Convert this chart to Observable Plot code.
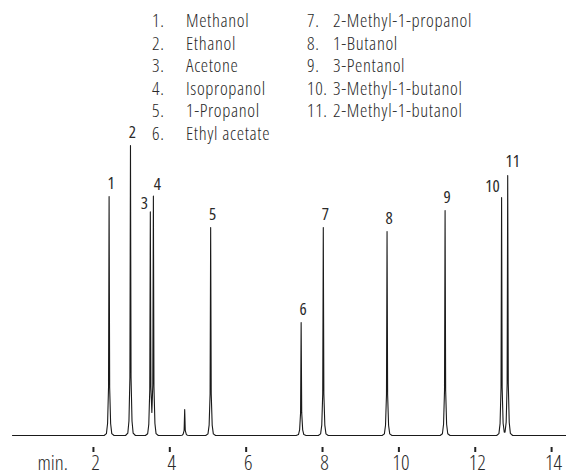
<!DOCTYPE html>
<html><head><meta charset="utf-8">
<script src="https://cdn.jsdelivr.net/npm/d3@7"></script>
<script src="https://cdn.jsdelivr.net/npm/@observablehq/plot@0.6"></script>
<style>
body{margin:0;background:#fff;}
#wrap{position:relative;width:566px;height:475px;font-family:"Open Sans",sans-serif;color:#2a2a2a;}
#legend{position:absolute;left:152px;top:9px;display:grid;grid-template-columns:155px auto;grid-auto-flow:column;grid-template-rows:repeat(6,22.6px);font-size:18.5px;line-height:22.6px;white-space:nowrap;font-stretch:75%;font-weight:350;letter-spacing:0.65px;}
#legend .n1{display:inline-block;width:34px;}
#legend .n2{display:inline-block;width:26px;}
svg text{font-stretch:75%;}
</style>
</head><body>
<div id="wrap"><div id="chart"></div><div id="legend"></div></div>
<script>
// ---- data ----
const compounds = ["Methanol","Ethanol","Acetone","Isopropanol","1-Propanol","Ethyl acetate",
  "2-Methyl-1-propanol","1-Butanol","3-Pentanol","3-Methyl-1-butanol","2-Methyl-1-butanol"];
const retentionTimes = [2.41, 2.97, 3.49, 3.57, 5.07, 7.44, 8.02, 9.69, 11.21, 12.69, 12.85];
const peakHeights    = [239, 290, 222, 238, 208, 113, 208, 204, 225, 238, 260];
const minorTimes   = [4.39];
const minorHeights = [26];
const xTicks = [2, 4, 6, 8, 10, 12, 14];
const xDomain = [-0.12, 14.39];

// ---- legend ----
const legend = document.getElementById("legend");
compounds.forEach((name, i) => {
  const div = document.createElement("div");
  const num = document.createElement("span");
  num.className = i < 6 ? "n1" : "n2";
  num.textContent = (i + 1) + ".";
  div.appendChild(num);
  div.appendChild(document.createTextNode(name));
  legend.appendChild(div);
});

// ---- signal built from the peak table ----
const allPeaks = retentionTimes.map((t, i) => ({t, h: peakHeights[i]}))
  .concat(minorTimes.map((t, i) => ({t, h: minorHeights[i]})));
const profile = [[0,1],[0.015,0.2],[0.04,0.05],[0.07,0.008],[0.13,0]];
function shape(d) {
  d = Math.abs(d);
  for (let k = 1; k < profile.length; k++) {
    if (d <= profile[k][0]) {
      const [a0, f0] = profile[k-1], [a1, f1] = profile[k];
      return f0 + (f1 - f0) * (d - a0) / (a1 - a0);
    }
  }
  return 0;
}
const ts = new Set(xDomain);
for (const p of allPeaks) for (const [o] of profile) { ts.add(p.t - o); ts.add(p.t + o); }
const signal = [...ts].sort((a, b) => a - b).map(t => ({t, v: d3.sum(allPeaks, p => p.h * shape(t - p.t))}));

const labels = retentionTimes.map((t, i) => ({t, h: peakHeights[i], label: String(i + 1)}));
const nudgeX = {"3": -6, "4": 4, "10": -9, "11": 5};
const nudgeY = {"3": -10, "10": -11, "11": -14};

const font = '"Open Sans",sans-serif';
const ink = "#2a2a2a";
const chart = Plot.plot({
  width: 566, height: 475,
  marginTop: 0, marginBottom: 28, marginLeft: 12, marginRight: 0,
  style: {fontFamily: font, fontSize: "17px", color: ink, background: "#fff"},
  x: {domain: xDomain},
  y: {domain: [-12, 435], axis: null},
  marks: [
    Plot.axisX({ticks: xTicks, tickSize: 5, strokeWidth: 2, stroke: "#222", tickFormat: () => "", label: null}),
    Plot.axisX({ticks: xTicks, tickSize: 0, tickPadding: 8, dx: 2, fontSize: 21, fontWeight: 340, fill: ink, label: null}),
    Plot.text(["min."], {frameAnchor: "bottom-left", textAnchor: "start", lineAnchor: "top", dx: 25, dy: 8, fontSize: 21, fontWeight: 340, fill: ink}),
    Plot.line(signal, {x: "t", y: "v", stroke: "#1a1a1a", strokeWidth: 1.1}),
    Plot.text(labels.filter(d => !nudgeX[d.label] && !nudgeY[d.label]), {x: "t", y: "h", text: "label", dx: 2, dy: -13, fontSize: 17, fontWeight: 370, fill: ink}),
    ...Object.keys(Object.assign({}, nudgeX, nudgeY)).map(k => {
      const d = labels.find(l => l.label === k);
      return Plot.text([d], {x: "t", y: "h", text: "label", dx: nudgeX[k] ?? 2, dy: nudgeY[k] ?? -13, fontSize: 17, fontWeight: 370, fill: ink});
    })
  ]
});
document.getElementById("chart").appendChild(chart);
</script>
</body></html>
